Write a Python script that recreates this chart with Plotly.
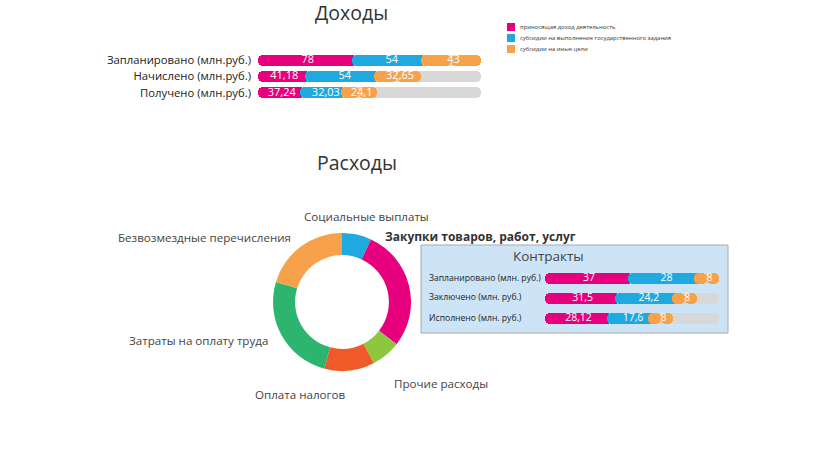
import plotly.graph_objects as go

W, H = 822, 450
OFF = 0

# ---------------- data ----------------
income_rows = ["Запланировано (млн.руб.)", "Начислено (млн.руб.)", "Получено (млн.руб.)"]
income_own = [78, 41.18, 37.24]
income_state = [54, 54, 32.03]
income_other = [43, 32.65, 24.1]
income_labels = [["78", "54", "43"], ["41,18", "54", "32,65"], ["37,24", "32,03", "24,1"]]

legend_names = ["приносящая доход деятельность",
                "субсидии на выполнение государственного задания",
                "субсидии на иные цели"]

contract_rows = ["Запланировано (млн. руб.)", "Заключено (млн. руб.)", "Исполнено (млн. руб.)"]
contract_a = [37, 31.5, 28.12]
contract_b = [28, 24.2, 17.6]
contract_c = [8, 8, 8]
contract_labels = [["37", "28", "8"], ["31,5", "24,2", "8"], ["28,12", "17,6", "8"]]

expense_names = ["Социальные выплаты", "Закупки товаров, работ, услуг", "Прочие расходы",
                 "Оплата налогов", "Затраты на оплату труда", "Безвозмездные перечисления"]
expense_share = [6.9, 28.6, 6.9, 11.7, 25.6, 20.3]

# ---------------- style ----------------
MAG, BLU, ORA, GRY = "#e6007e", "#1fa9e1", "#f7a24b", "#d8d8d8"
SEG_COLORS = [MAG, BLU, ORA]
PIE_COLORS = [BLU, MAG, "#8dc63f", "#f05a28", "#2db46f", ORA]
FONT = "Open Sans"
TXT = "#444444"

def px_x(p):
    return (p - OFF) / W

def px_y(p):
    return 1 - (p - OFF) / H

fig = go.Figure()

def add_rows(rows_vals, rows_text, total, xa, ya, rpx, bar_w, axis_px, tsize):
    r = rpx * total / axis_px  # radius in data units
    for i, vals in enumerate(rows_vals):
        y = [i]
        cum = []
        s = 0
        for v in vals:
            s += v
            cum.append(s)
        common = dict(orientation="h", y=y, width=bar_w, xaxis=xa, yaxis=ya,
                      showlegend=False, hoverinfo="skip", marker_line_width=0,
                      marker_cornerradius="50%")
        mid = total / 2
        fig.add_trace(go.Bar(x=[-mid], base=[mid], marker_color=GRY, **common))
        fig.add_trace(go.Bar(x=[mid], base=[mid], marker_color=GRY, **common))
        n = len(vals)
        for k in range(n):
            start = 0 if k == 0 else cum[k - 1] - r
            end = cum[k]
            col = SEG_COLORS[k]
            if k < n - 1:
                fig.add_trace(go.Bar(x=[-(end - start)], base=[end], marker_color=col, **common))
            else:
                m = (start + end) / 2
                fig.add_trace(go.Bar(x=[-(m - start)], base=[m], marker_color=col, **common))
                fig.add_trace(go.Bar(x=[end - m], base=[m], marker_color=col, **common))
        mids = [(0 if k == 0 else cum[k - 1]) / 2 + cum[k] / 2 for k in range(n)]
        fig.add_trace(go.Scatter(x=mids, y=[i] * n, mode="text", text=rows_text[i],
                                 textfont=dict(color="white", size=tsize, family=FONT),
                                 xaxis=xa, yaxis=ya, showlegend=False, hoverinfo="skip",
                                 cliponaxis=False))

income_vals = [[income_own[i], income_state[i], income_other[i]] for i in range(3)]
contract_vals = [[contract_a[i], contract_b[i], contract_c[i]] for i in range(3)]

income_total = sum(income_vals[0])
contract_total = sum(contract_vals[0])

add_rows(income_vals, income_labels, income_total, "x", "y", 5.5, 0.67, 481 - 258, 11)
add_rows(contract_vals, contract_labels, contract_total, "x2", "y2", 5.5, 0.55, 719 - 545, 10.5)

# donut
fig.add_trace(go.Pie(labels=expense_names, values=expense_share, hole=0.68, sort=False,
                     direction="clockwise", rotation=0, textinfo="none",
                     marker=dict(colors=PIE_COLORS, line=dict(width=0)),
                     domain=dict(x=[px_x(273), px_x(411)], y=[px_y(371), px_y(233)]),
                     showlegend=False, hoverinfo="label+percent"))

annotations = []
def ann(text, x, y, size, xanchor="center", color=TXT, bold=False):
    annotations.append(dict(text=("<b>%s</b>" % text) if bold else text,
                            x=px_x(x), y=px_y(y), xref="paper", yref="paper",
                            xanchor=xanchor, yanchor="middle", showarrow=False,
                            font=dict(size=size, color=color, family=FONT)))

ann("Доходы", 351, 13, 19.5, color="#333333")
ann("Расходы", 357, 162, 19.5, color="#333333")

# legend (manual, compact)
shapes = []
for i, (name, col) in enumerate(zip(legend_names, SEG_COLORS)):
    yc = [27, 38, 49][i]
    shapes.append(dict(type="rect", xref="paper", yref="paper",
                       x0=px_x(507), x1=px_x(515), y0=px_y(yc + 4), y1=px_y(yc - 4),
                       fillcolor=col, line=dict(width=0)))
    ann(name, 518, yc, 5.9, xanchor="left", color="#333333")

# donut labels
LS = 11.6
ann(expense_names[0], 366, 216, LS)
ann(expense_names[1], 383, 236, 12, xanchor="left", color="#333333", bold=True)
ann(expense_names[2], 392, 383, LS, xanchor="left")
ann(expense_names[3], 300, 394, LS)
ann(expense_names[4], 270, 340, LS, xanchor="right")
ann(expense_names[5], 293, 238, LS, xanchor="right")

# contracts box
ann("Контракты", 548, 256, 13.5)
for i, lab in enumerate(contract_rows):
    ann(lab, 427, [278, 297, 318][i], 8.6, xanchor="left", color="#222222")

shapes.append(dict(type="rect", xref="paper", yref="paper",
                   x0=px_x(421), x1=px_x(728), y0=px_y(333), y1=px_y(245),
                   fillcolor="#cde4f6", line=dict(color="#a9a9a9", width=1), layer="below"))

fig.update_layout(
    width=W, height=H, margin=dict(l=0, r=0, t=0, b=0),
    paper_bgcolor="white", plot_bgcolor="rgba(0,0,0,0)",
    barmode="overlay", bargap=0,
    font=dict(family=FONT, color=TXT),
    showlegend=False,
    xaxis=dict(domain=[px_x(258), px_x(481)], range=[0, income_total], visible=False,
               fixedrange=True),
    yaxis=dict(domain=[px_y(101), px_y(52)], range=[2.5, -0.5], tickvals=[0, 1, 2],
               ticktext=income_rows, showgrid=False, zeroline=False, showline=False,
               ticks="", ticklabelstandoff=6,
               tickfont=dict(size=11.3, color="#222222", family=FONT), fixedrange=True),
    xaxis2=dict(domain=[px_x(545), px_x(719)], range=[0, contract_total], visible=False,
                anchor="y2", fixedrange=True),
    yaxis2=dict(domain=[px_y(328), px_y(268)], range=[2.5, -0.5], visible=False,
                anchor="x2", fixedrange=True),
    shapes=shapes, annotations=annotations,
)

fig.write_html("out.html", config={"displayModeBar": False},
               post_script="document.body.style.margin='0px';")
